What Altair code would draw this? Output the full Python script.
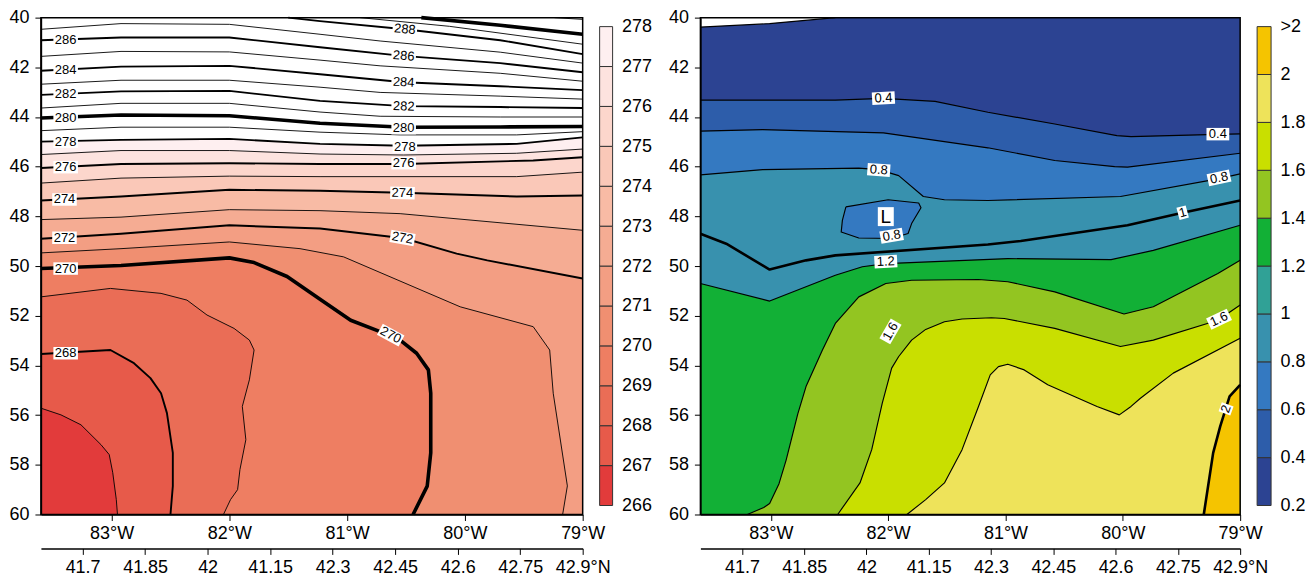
import math
import altair as alt
import pandas as pd

# ---------------- axes / domains ----------------
LON_RANGE = [-83.6, -79.0]
LAT_RANGE = [41.6, 42.9]
LEVEL_RANGE = [40, 60]

lon_ticks = [-83, -82, -81, -80, -79]
lat_ticks = [41.7, 41.85, 42.0, 42.15, 42.3, 42.45, 42.6, 42.75, 42.9]
lat_tick_labels = ["41.7", "41.85", "42", "41.15", "42.3", "42.45", "42.6", "42.75", "42.9°N"]
level_ticks = [40, 42, 44, 46, 48, 50, 52, 54, 56, 58, 60]

# ---------------- colour bins ----------------
temp_bounds = [266, 267, 268, 269, 270, 271, 272, 273, 274, 275, 276, 277, 278]
temp_colors = ["#E23B3B", "#E75A4A", "#EA6D56", "#EE7E62", "#F08F71", "#F39E83",
               "#F5AC93", "#F8BBA5", "#FAC8B8", "#FCD6CC", "#FDE3DF", "#FEEFF0"]
temp_above_color = "#FFFFFF"

ratio_bounds = [0.2, 0.4, 0.6, 0.8, 1.0, 1.2, 1.4, 1.6, 1.8, 2.0, 2.2]
ratio_colors = ["#2C4392", "#2D5DAA", "#3479C1", "#3891AE", "#30A196",
                "#12B036", "#93C521", "#C9DF00", "#EEE35A", "#F5C400"]
ratio_below_color = "#FFFFFF"
# in the drawing itself the 1.0-1.2 band shows the same teal as 0.8-1.0
ratio_plot_colors = ["#2C4392", "#2D5DAA", "#3479C1", "#3891AE", "#3891AE",
                     "#12B036", "#93C521", "#C9DF00", "#EEE35A", "#F5C400"]

# ---------------- left panel: contour lines (lon, level) ----------------
temp_contours = {
    267: [(-83.6, 55.72), (-83.43, 55.99), (-83.26, 56.39), (-83.09, 57.19), (-83.02, 57.59),
          (-82.99, 58.32), (-82.96, 59.40), (-82.95, 60.0)],
    268: [(-83.6, 53.54), (-83.01, 53.38), (-82.81, 53.91), (-82.67, 54.51), (-82.58, 55.12),
          (-82.53, 55.92), (-82.48, 57.52), (-82.48, 58.86), (-82.50, 60.0)],
    269: [(-83.6, 51.24), (-83.01, 50.90), (-82.58, 51.10), (-82.36, 51.37), (-82.19, 51.97),
          (-81.96, 52.51), (-81.83, 52.98), (-81.79, 53.38), (-81.83, 54.58), (-81.89, 55.65),
          (-81.86, 56.99), (-81.91, 58.19), (-81.93, 59.00), (-81.99, 59.40), (-82.05, 60.0)],
    270: [(-83.6, 50.10), (-82.92, 49.98), (-82.0, 49.67), (-81.79, 49.86), (-81.51, 50.42),
          (-81.23, 51.34), (-80.97, 52.18), (-80.72, 52.64), (-80.55, 52.98), (-80.41, 53.51),
          (-80.31, 54.18), (-80.29, 55.12), (-80.29, 57.52), (-80.32, 58.86), (-80.44, 60.0)],
    271: [(-83.6, 49.47), (-82.92, 49.30), (-82.0, 49.03), (-81.40, 49.30), (-81.03, 49.63),
          (-80.04, 51.64), (-79.42, 52.44), (-79.28, 53.38), (-79.25, 55.12), (-79.13, 58.85),
          (-79.17, 60.0)],
    272: [(-83.6, 48.90), (-82.92, 48.70), (-82.0, 48.36), (-81.23, 48.49), (-80.52, 48.88),
          (-80.07, 49.50), (-79.81, 49.77), (-79.0, 50.50)],
    273: [(-83.6, 48.13), (-82.92, 48.03), (-82.0, 47.73), (-81.23, 47.77), (-80.55, 47.89),
          (-79.0, 48.56)],
    274: [(-83.6, 47.36), (-82.92, 47.20), (-82.0, 46.93), (-81.23, 46.97), (-80.53, 47.05),
          (-79.56, 47.20), (-79.0, 47.16)],
    275: [(-83.6, 46.66), (-82.92, 46.46), (-82.0, 46.38), (-81.23, 46.40), (-79.56, 46.40),
          (-79.0, 46.22)],
    276: [(-83.6, 46.05), (-82.92, 45.89), (-82.0, 45.86), (-81.23, 45.89), (-80.52, 45.89),
          (-79.42, 45.75), (-79.0, 45.62)],
    277: [(-83.6, 45.51), (-82.92, 45.35), (-82.0, 45.35), (-81.23, 45.49), (-80.52, 45.53),
          (-79.56, 45.46), (-79.0, 45.29)],
    278: [(-83.6, 44.99), (-82.92, 44.92), (-82.0, 44.88), (-81.23, 45.08), (-80.52, 45.16),
          (-79.56, 45.08), (-79.0, 44.82)],
    279: [(-83.6, 44.55), (-82.92, 44.41), (-82.0, 44.41), (-81.23, 44.61), (-80.55, 44.72),
          (-79.56, 44.72), (-79.0, 44.59)],
    280: [(-83.6, 44.04), (-82.92, 43.92), (-82.0, 43.95), (-81.23, 44.25), (-80.52, 44.41),
          (-79.70, 44.40), (-79.0, 44.38)],
    281: [(-83.6, 43.64), (-82.92, 43.45), (-82.0, 43.45), (-81.23, 43.80), (-80.72, 43.97),
          (-79.70, 44.00), (-79.0, 44.00)],
    282: [(-83.6, 43.11), (-82.92, 42.97), (-82.0, 42.95), (-81.23, 43.35), (-80.52, 43.56),
          (-79.70, 43.60), (-79.0, 43.64)],
    283: [(-83.6, 42.68), (-82.92, 42.52), (-82.0, 42.52), (-81.23, 42.80), (-80.72, 43.01),
          (-79.70, 43.16), (-79.0, 43.28)],
    284: [(-83.6, 42.14), (-82.92, 41.97), (-82.0, 41.94), (-81.23, 42.28), (-80.52, 42.60),
          (-79.70, 42.76), (-79.0, 42.92)],
    285: [(-83.6, 41.56), (-82.92, 41.36), (-82.0, 41.38), (-81.23, 41.71), (-80.72, 41.94),
          (-79.70, 42.24), (-79.0, 42.56)],
    286: [(-83.6, 40.91), (-82.92, 40.80), (-82.0, 40.80), (-81.23, 41.19), (-80.53, 41.54),
          (-79.70, 41.83), (-79.0, 42.20)],
    287: [(-83.6, 40.47), (-82.92, 40.24), (-82.0, 40.27), (-81.23, 40.67), (-80.72, 40.94),
          (-79.70, 41.39), (-79.0, 41.83)],
    288: [(-81.50, 40.0), (-81.23, 40.14), (-80.51, 40.47), (-79.70, 40.91), (-79.0, 41.47)],
    289: [(-80.89, 40.0), (-80.13, 40.35), (-79.0, 41.07)],
    290: [(-80.37, 40.0), (-79.70, 40.31), (-79.0, 40.67)],
    291: [(-79.24, 40.0), (-79.0, 40.07)],
}

temp_label_text = ["286", "284", "282", "280", "278", "276", "274", "272", "270", "268",
                   "288", "286", "284", "282", "280", "278", "276", "274", "272", "270"]
temp_label_lon = [-83.39, -83.39, -83.39, -83.39, -83.39, -83.39, -83.40, -83.40, -83.39, -83.39,
                  -80.51, -80.52, -80.52, -80.52, -80.52, -80.51, -80.52, -80.53, -80.53, -80.63]
temp_label_lev = [40.91, 42.10, 43.08, 44.04, 44.99, 46.02, 47.32, 48.86, 50.10, 53.51,
                  40.47, 41.54, 42.60, 43.57, 44.45, 45.19, 45.86, 47.06, 48.87, 52.78]
temp_label_angle = [0, 0, 0, 0, 0, 0, 0, 0, 0, 0,
                    5, 5, 3, 2, 0, 0, 0, 1, 10, 28]

# ---------------- right panel: contour lines (lon, level) ----------------
ratio_contours = {
    0.2: [(-83.6, 40.38), (-83.01, 40.24), (-82.45, 40.0)],
    0.4: [(-83.6, 43.32), (-82.45, 43.32), (-82.04, 43.25), (-81.60, 43.37), (-81.15, 43.81),
          (-80.58, 44.28), (-80.05, 44.75), (-79.93, 44.79), (-79.28, 44.71), (-79.0, 44.68)],
    0.6: [(-83.6, 44.57), (-83.07, 44.51), (-82.04, 44.64), (-81.15, 45.24), (-80.58, 45.75),
          (-80.07, 46.00), (-79.96, 46.02), (-79.0, 45.46)],
    0.8: [(-83.6, 46.33), (-83.07, 46.12), (-82.25, 46.06), (-82.08, 46.12), (-81.91, 46.36),
          (-81.70, 47.20), (-81.52, 47.33), (-81.15, 47.36), (-80.02, 47.20), (-79.19, 46.49),
          (-79.0, 46.29)],
    1.0: [(-83.6, 48.70), (-83.38, 49.10), (-83.01, 50.14), (-82.70, 49.77), (-82.45, 49.57),
          (-81.15, 49.13), (-80.87, 48.99), (-79.96, 48.36), (-79.51, 47.87), (-79.0, 47.36)],
    1.2: [(-83.6, 50.70), (-83.01, 51.41), (-82.45, 50.37), (-82.22, 50.03), (-82.02, 49.90),
          (-80.98, 49.70), (-80.10, 49.74), (-79.74, 49.37), (-79.0, 48.36)],
    1.4: [(-83.20, 60.0), (-83.06, 59.72), (-83.01, 59.56), (-82.93, 58.76), (-82.87, 57.82),
          (-82.77, 55.95), (-82.70, 54.85), (-82.56, 53.38), (-82.45, 52.31), (-82.25, 51.24),
          (-82.02, 50.70), (-81.80, 50.57), (-81.23, 50.54), (-80.98, 50.63), (-80.58, 51.04),
          (-79.99, 51.93), (-79.74, 51.64), (-79.19, 50.30), (-79.0, 49.77)],
    1.6: [(-82.43, 60.0), (-82.24, 58.73), (-82.14, 57.39), (-82.05, 55.52), (-81.97, 54.11),
          (-81.91, 53.64), (-81.80, 52.98), (-81.68, 52.55), (-81.52, 52.24), (-81.37, 52.13),
          (-81.12, 52.08), (-81.01, 52.11), (-80.58, 52.51), (-80.02, 53.24), (-79.74, 52.98),
          (-79.19, 52.18), (-79.0, 51.57)],
    1.8: [(-81.84, 60.0), (-81.68, 59.40), (-81.52, 58.73), (-81.37, 57.39), (-81.23, 55.65),
          (-81.13, 54.38), (-81.06, 54.05), (-80.98, 53.95), (-80.84, 54.18), (-80.64, 54.78),
          (-80.22, 55.65), (-80.03, 55.99), (-79.93, 55.65), (-79.85, 55.32), (-79.57, 54.31),
          (-79.0, 52.91)],
    2.0: [(-79.31, 60.0), (-79.23, 57.52), (-79.17, 56.45), (-79.09, 55.25), (-79.0, 54.78)],
}
ratio_low_loop = [(-82.36, 47.62), (-82.00, 47.33), (-81.74, 47.46), (-81.72, 47.65),
                  (-81.80, 48.29), (-81.83, 48.69), (-81.97, 48.89), (-82.25, 48.87),
                  (-82.40, 48.63), (-82.39, 48.16), (-82.36, 47.62)]
ratio_low_level = 0.8

ratio_label_text = ["0.4", "0.8", "0.8", "1.2", "1.6", "0.4", "0.8", "1", "1.6", "2"]
ratio_label_lon = [-82.04, -82.08, -81.97, -82.02, -81.98, -79.19, -79.18, -79.49, -79.18, -79.12]
ratio_label_lev = [43.24, 46.13, 48.78, 49.82, 52.63, 44.69, 46.45, 47.85, 52.14, 55.75]
ratio_label_angle = [357, 4, 350, 357, 300, 0, 348, 345, 335, 290]

low_text = ["L"]
low_lon = [-82.02]
low_lev = [48.01]

# ---------------- helpers ----------------
FONT = "Liberation Sans"
CORNERS = {0: (LON_RANGE[0], LEVEL_RANGE[0]), 1: (LON_RANGE[1], LEVEL_RANGE[0]),
           2: (LON_RANGE[1], LEVEL_RANGE[1]), 3: (LON_RANGE[0], LEVEL_RANGE[1])}


def perim_t(lon, lev):
    fx = (lon - LON_RANGE[0]) / (LON_RANGE[1] - LON_RANGE[0])
    fy = (lev - LEVEL_RANGE[0]) / (LEVEL_RANGE[1] - LEVEL_RANGE[0])
    e = 1e-9
    if fy <= e:
        return fx
    if fx >= 1 - e:
        return 1 + fy
    if fy >= 1 - e:
        return 2 + (1 - fx)
    return 3 + (1 - fy)


def close_region(pts, clockwise):
    t0 = perim_t(*pts[0])
    t1 = perim_t(*pts[-1])
    out = list(pts)
    if clockwise:
        dist = (t0 - t1) % 4
        k = math.floor(t1) + 1
        while k - t1 < dist:
            out.append(CORNERS[k % 4])
            k += 1
    else:
        dist = (t1 - t0) % 4
        k = math.ceil(t1) - 1
        while t1 - k < dist:
            out.append(CORNERS[k % 4])
            k -= 1
    return out


lon_axis = alt.Axis(values=lon_ticks, labelExpr="abs(datum.value) + '°W'", title=None, grid=False,
                    tickSize=6, labelPadding=4, labelFlush=False, labelOverlap=False,
                    domainWidth=1.5, zindex=1)
level_axis = alt.Axis(values=level_ticks, title=None, grid=False, tickSize=6, labelPadding=6,
                      labelFlush=False, labelOverlap=False, domainWidth=1.5, zindex=1)
X_ENC = alt.X("lon:Q", scale=alt.Scale(domain=LON_RANGE, nice=False, zero=False), axis=lon_axis)
Y_ENC = alt.Y("lev:Q", scale=alt.Scale(domain=LEVEL_RANGE, reverse=True, nice=False, zero=False),
              axis=level_axis)

lat_expr = "'" + lat_tick_labels[-1] + "'"
for v, lab in reversed(list(zip(lat_ticks[:-1], lat_tick_labels[:-1]))):
    lat_expr = f"datum.value < {v + 0.05:.3f} ? '{lab}' : " + lat_expr
lat_axis = alt.Axis(orient="bottom", offset=34, values=lat_ticks, labelExpr=lat_expr, title=None,
                    grid=False, tickSize=6, labelPadding=4, labelFlush=False, labelOverlap=False,
                    domainWidth=1.5)


def region_chart(points, band, cscale):
    df = pd.DataFrame({"lon": [p[0] for p in points], "lev": [p[1] for p in points],
                       "i": list(range(len(points))), "band": band})
    return alt.Chart(df).mark_line(filled=True, interpolate="linear-closed", strokeWidth=0).encode(
        x=X_ENC, y=Y_ENC, order=alt.Order("i:Q"),
        color=alt.Color("band:N", scale=cscale, legend=None))


def rect_df():
    return pd.DataFrame({"lon": [LON_RANGE[0]], "lon2": [LON_RANGE[1]],
                         "lev": [LEVEL_RANGE[0]], "lev2": [LEVEL_RANGE[1]]})


def lines_chart(contour_list, width_expr):
    rows = []
    for cid, (level, pts) in enumerate(contour_list):
        for i, (lo, le) in enumerate(pts):
            rows.append({"cid": cid, "level": level, "lon": lo, "lev": le, "i": i})
    return alt.Chart(pd.DataFrame(rows)).transform_calculate(w=width_expr).mark_line(
        color="black", strokeJoin="round").encode(
        x=X_ENC, y=Y_ENC, detail="cid:N", order=alt.Order("i:Q"),
        strokeWidth=alt.StrokeWidth("w:Q", scale=None))


def label_charts(text, lon, lev, angle, fontsize, charw, halfh):
    df = pd.DataFrame({"text": text, "lon": lon, "lev": lev, "angle": angle})
    base = alt.Chart(df).transform_calculate(
        hw=f"(length(datum.text) * {charw} + 3) / 10"
    ).transform_calculate(
        box=f"'M' + (-datum.hw) + ',-{halfh}L' + datum.hw + ',-{halfh}L' + datum.hw + ',{halfh}L' + (-datum.hw) + ',{halfh}Z'"
    )
    boxes = base.mark_point(filled=True, size=100, color="white", opacity=1, strokeWidth=0).encode(
        x=X_ENC, y=Y_ENC, shape=alt.Shape("box:N", scale=None),
        angle=alt.Angle("angle:Q", scale=None))
    texts = base.mark_text(fontSize=fontsize, color="black", font=FONT).encode(
        x=X_ENC, y=Y_ENC, text="text:N", angle=alt.Angle("angle:Q", scale=None))
    return [boxes, texts]


def frame_chart():
    return alt.Chart(rect_df()).mark_rect(fillOpacity=0, stroke="black", strokeWidth=1.5).encode(
        x=X_ENC, x2="lon2:Q", y=Y_ENC, y2="lev2:Q")


def lat_layer():
    return alt.Chart(pd.DataFrame({"lat": lat_ticks})).mark_point(opacity=0).encode(
        x=alt.X("lat:Q", scale=alt.Scale(domain=LAT_RANGE, nice=False, zero=False), axis=lat_axis))


def colorbar(bounds, colors, label_expr, height, width):
    span = (bounds[-1] - bounds[0]) * (height - 480) / 2 / 480
    names = [f"c{i}" for i in range(len(colors))]
    df = pd.DataFrame({"lo": bounds[:-1], "hi": bounds[1:], "cband": names})
    return alt.Chart(df).mark_rect(stroke="#333333", strokeWidth=1).encode(
        y=alt.Y("lo:Q", scale=alt.Scale(domain=[bounds[0] - span, bounds[-1] + span], nice=False, zero=False),
                axis=alt.Axis(orient="right", values=bounds, labelExpr=label_expr, ticks=False,
                              domain=False, grid=False, title=None, labelPadding=9,
                              labelFlush=False, labelOverlap=False)),
        y2="hi:Q",
        color=alt.Color("cband:N", scale=alt.Scale(domain=names, range=colors), legend=None),
    ).properties(width=width, height=height)


PLOT_H = 498

# ---------------- left panel ----------------
t_names = [str(b) for b in temp_bounds]
t_scale = alt.Scale(domain=t_names, range=temp_colors + [temp_above_color])
t_bg = alt.Chart(rect_df().assign(band=t_names[0])).mark_rect().encode(
    x=X_ENC, x2="lon2:Q", y=Y_ENC, y2="lev2:Q", color=alt.Color("band:N", scale=t_scale, legend=None))
t_fills = [region_chart(close_region(temp_contours[L], clockwise=False), str(L), t_scale)
           for L in temp_bounds[1:]]
t_lines = lines_chart(sorted(temp_contours.items()),
                      "datum.level % 10 == 0 ? 3.6 : (datum.level % 2 == 0 ? 1.9 : 0.9)")
t_labels = label_charts(temp_label_text, temp_label_lon, temp_label_lev, temp_label_angle, 13, 7.2, 1.25)
left_inner = alt.layer(t_bg, *t_fills, t_lines, *t_labels, frame_chart())
left_panel = alt.layer(left_inner, lat_layer()).resolve_scale(x="independent").properties(
    width=543, height=PLOT_H)
left_cbar = colorbar(temp_bounds, temp_colors, "format(datum.value, '~g')", PLOT_H, 13)

# ---------------- right panel ----------------
r_levels = ratio_bounds[:-1]
r_names = ["below"] + [f"{b:.1f}" for b in r_levels]
r_scale = alt.Scale(domain=r_names, range=[ratio_below_color] + ratio_plot_colors)
r_bg = alt.Chart(rect_df().assign(band="below")).mark_rect().encode(
    x=X_ENC, x2="lon2:Q", y=Y_ENC, y2="lev2:Q", color=alt.Color("band:N", scale=r_scale, legend=None))
r_fills = []
for L in r_levels:
    r_fills.append(region_chart(close_region(ratio_contours[L], clockwise=True), f"{L:.1f}", r_scale))
    if abs(L - ratio_low_level) < 1e-9:
        r_fills.append(region_chart(ratio_low_loop, f"{ratio_low_level - 0.2:.1f}", r_scale))
r_contour_list = sorted(ratio_contours.items()) + [(ratio_low_level, ratio_low_loop)]
r_lines = lines_chart(r_contour_list, "(datum.level == 1 || datum.level == 2) ? 2.6 : 1.15")
r_labels = label_charts(ratio_label_text, ratio_label_lon, ratio_label_lev, ratio_label_angle, 13, 6.6, 1.25)
r_low = label_charts(low_text, low_lon, low_lev, [0], 19, 13, 1.9)
right_inner = alt.layer(r_bg, *r_fills, r_lines, *r_labels, *r_low, frame_chart())
right_panel = alt.layer(right_inner, lat_layer()).resolve_scale(x="independent").properties(
    width=541, height=PLOT_H)
right_cbar = colorbar(ratio_bounds, ratio_colors,
                      "datum.value > 2.1 ? '>2' : format(datum.value, '~g')", PLOT_H, 14)

# empty gap between the left colour bar and the right panel
spacer = alt.Chart(pd.DataFrame({"g": [0]})).mark_point(opacity=0).properties(width=54, height=PLOT_H)

chart = alt.hconcat(left_panel, left_cbar, spacer, right_panel, right_cbar,
                    spacing=17, bounds="flush").resolve_scale(
    color="independent"
).properties(
    padding={"left": 0, "top": 0, "right": 2, "bottom": 0}
).configure_view(strokeWidth=0).configure_axis(
    labelFont=FONT, labelFontSize=18, labelColor="black", tickColor="black", domainColor="black"
).configure_text(font=FONT)

chart.save("out.html", embed_options={"renderer": "svg", "actions": False})
